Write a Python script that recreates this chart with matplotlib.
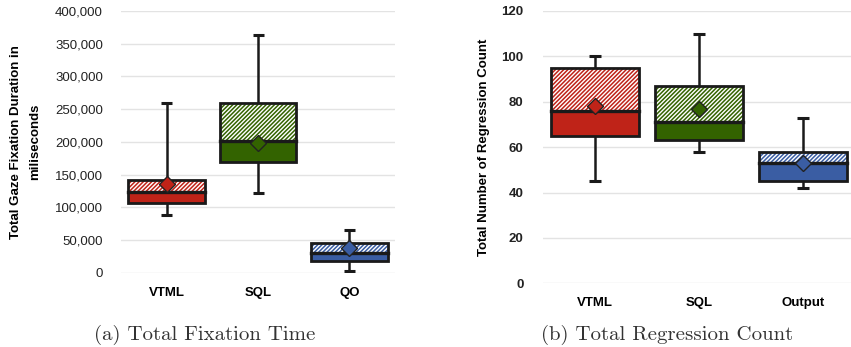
import matplotlib.pyplot as plt
from matplotlib.ticker import FuncFormatter

# Fixation time (ms) per condition
fix_labels = ["VTML", "SQL", "QO"]
fix_wlo = [88500, 121500, 3500]
fix_q1 = [107000, 170000, 19000]
fix_med = [124000, 202000, 30000]
fix_q3 = [142000, 259000, 46000]
fix_whi = [259000, 364000, 65500]
fix_mean = [136000, 198000, 37500]

# Regression counts per condition
reg_labels = ["VTML", "SQL", "Output"]
reg_wlo = [45, 58, 42]
reg_q1 = [65, 63, 45]
reg_med = [76, 71, 53]
reg_q3 = [95, 87, 58]
reg_whi = [100, 110, 73]
reg_mean = [78, 77, 53]

COLORS = ["#bf2318", "#336300", "#3a5da3"]

plt.rcParams["font.family"] = ["Liberation Sans", "DejaVu Sans"]
plt.rcParams["hatch.linewidth"] = 1.1


def draw_boxes(ax, wlo, q1, med, q3, whi, mean):
    x = range(len(q1))
    w = 0.84
    for i in x:
        c = COLORS[i]
        # whiskers with caps
        ax.plot([i, i], [wlo[i], q1[i]], color="#1a1a1a", lw=1.8, zorder=2)
        ax.plot([i, i], [q3[i], whi[i]], color="#1a1a1a", lw=1.8, zorder=2)
        for v in (wlo[i], whi[i]):
            ax.plot([i - 0.06, i + 0.06], [v, v], color="#1a1a1a", lw=2.2,
                    solid_capstyle="butt", zorder=2)
        # lower half solid, upper half hatched
        ax.bar(i, med[i] - q1[i], bottom=q1[i], width=w, color=c,
               edgecolor="none", zorder=3)
        ax.bar(i, q3[i] - med[i], bottom=med[i], width=w, facecolor="white",
               edgecolor=c, hatch="////////", linewidth=0, zorder=3)
        ax.bar(i, q3[i] - q1[i], bottom=q1[i], width=w, fill=False,
               edgecolor="#1a1a1a", linewidth=2.0, zorder=4)
        ax.plot([i - w / 2, i + w / 2], [med[i], med[i]], color="#1a1a1a",
                lw=2.4, zorder=4)
        ax.plot(i, mean[i], marker="D", markersize=8, color=c,
                markeredgecolor="#222222", markeredgewidth=1.0, zorder=5)


def style_axes(ax, labels, bold_ticks):
    ax.set_xlim(-0.5, 2.5)
    ax.set_xticks(range(len(labels)))
    ax.set_xticklabels(labels, fontweight="bold", fontsize=9.5)
    ax.tick_params(axis="x", length=0, pad=10)
    ax.tick_params(axis="y", length=0, labelsize=9.5, labelcolor="#222222")
    if bold_ticks:
        for t in ax.get_yticklabels():
            t.set_fontweight("bold")
    for s in ax.spines.values():
        s.set_visible(False)
    ax.grid(axis="y", color="#e3e3e3", lw=1.0)
    ax.set_axisbelow(True)


fig = plt.figure(figsize=(8.51, 3.47), dpi=100)

ax1 = fig.add_axes([0.1422, 0.2133, 0.322, 0.755])
draw_boxes(ax1, fix_wlo, fix_q1, fix_med, fix_q3, fix_whi, fix_mean)
ax1.set_ylim(0, 400000)
ax1.set_yticks(range(0, 400001, 50000))
ax1.yaxis.set_major_formatter(FuncFormatter(lambda v, p: f"{int(v):,}"))
style_axes(ax1, fix_labels, False)
ax1.tick_params(axis="y", pad=13)
ax1.set_ylabel("Total Gaze Fixation Duration in\nmiliseconds", fontweight="bold",
               fontsize=9.5, labelpad=10, linespacing=1.75)

ax2 = fig.add_axes([0.6381, 0.1836, 0.3666, 0.7847])
draw_boxes(ax2, reg_wlo, reg_q1, reg_med, reg_q3, reg_whi, reg_mean)
ax2.set_ylim(0, 120)
ax2.set_yticks(range(0, 121, 20))
style_axes(ax2, reg_labels, True)
ax2.tick_params(axis="y", pad=14)
ax2.set_ylabel("Total Number of Regression Count", fontweight="bold",
               fontsize=9.5, labelpad=8)

fig.text(0.241, 0.036, "(a) Total Fixation Time", family="cmr10", fontsize=15,
         ha="center", va="center", color="#333333")
fig.text(0.784, 0.036, "(b) Total Regression Count", family="cmr10",
         fontsize=15, ha="center", va="center", color="#333333")

fig.savefig("out.png", dpi=100)
